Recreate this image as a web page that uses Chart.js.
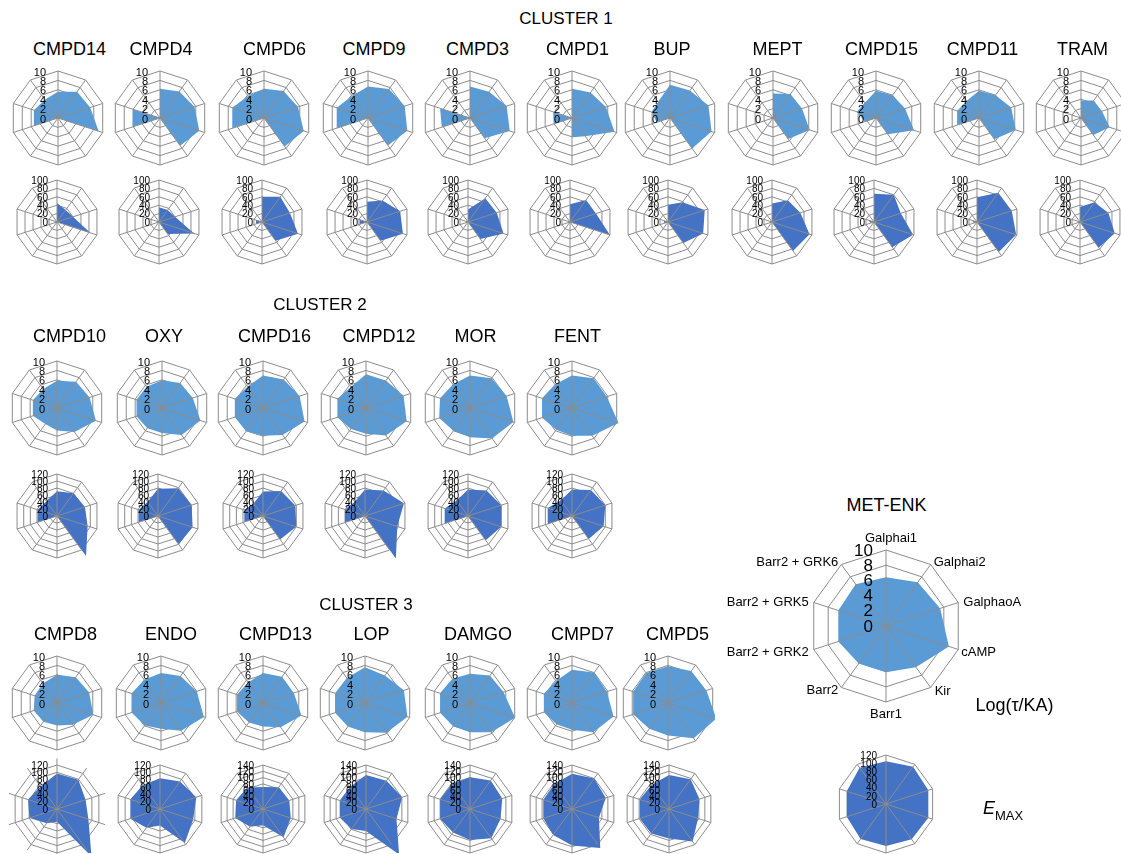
<!DOCTYPE html>
<html>
<head>
<meta charset="utf-8">
<script src="https://cdn.jsdelivr.net/npm/chart.js@4.4.1/dist/chart.umd.min.js"></script>
<style>
  html, body { margin: 0; padding: 0; background: #fff; }
  #fig { position: relative; width: 1121px; height: 854px; overflow: hidden;
         font-family: "Liberation Sans", Arial, Helvetica, sans-serif; color: #000; }
  .t { position: absolute; white-space: nowrap; transform: translate(-50%, -50%); line-height: 1; }
  canvas { position: absolute; }
</style>
</head>
<body>
<div id="fig"></div>
<script>
// ---- axes and tick sets ----
const axes = ['Galphai1', 'Galphai2', 'GalphaoA', 'cAMP', 'Kir', 'Barr1', 'Barr2',
              'Barr2 + GRK2', 'Barr2 + GRK5', 'Barr2 + GRK6'];
const tauTicks = [0, 2, 4, 6, 8, 10];
const emaxTicks100 = [0, 20, 40, 60, 80, 100];
const emaxTicks120 = [0, 20, 40, 60, 80, 100, 120];
const emaxTicks140 = [0, 20, 40, 60, 80, 100, 120, 140];

// ---- ligand groups ----
const cluster1 = ['CMPD14', 'CMPD4', 'CMPD6', 'CMPD9', 'CMPD3', 'CMPD1', 'BUP', 'MEPT', 'CMPD15', 'CMPD11', 'TRAM'];
const cluster2 = ['CMPD10', 'OXY', 'CMPD16', 'CMPD12', 'MOR', 'FENT'];
const cluster3 = ['CMPD8', 'ENDO', 'CMPD13', 'LOP', 'DAMGO', 'CMPD7', 'CMPD5'];
const cluster3EmaxTicks = [emaxTicks120, emaxTicks120, emaxTicks140, emaxTicks140, emaxTicks140, emaxTicks140, emaxTicks140];

// ---- Log(tau/KA) per ligand, in axis order ----
const tauCMPD14 = [5.6, 6.9, 7.2, 9.1, 0, 0, 0, 5.4, 5.4, 4.8];
const tauCMPD4  = [6.2, 7.0, 7.7, 8.8, 7.3, 0, 0, 6.1, 6.1, 0];
const tauCMPD6  = [6.2, 7.1, 7.6, 8.9, 7.5, 0, 0, 7.1, 7.1, 5.8];
const tauCMPD9  = [6.7, 7.6, 8.2, 8.8, 7.2, 0, 0, 7.0, 7.0, 5.8];
const tauCMPD3  = [6.7, 6.9, 8.2, 8.9, 5.3, 0, 0, 6.3, 6.7, 0];
const tauCMPD1  = [6.2, 6.7, 7.6, 9.5, 4.8, 4.1, 0, 4.0, 4.2, 0];
const tauBUP    = [7.1, 7.2, 8.6, 9.3, 8.0, 0, 0, 3.0, 4.1, 4.3];
const tauMEPT   = [5.2, 6.3, 6.5, 8.2, 5.5, 0, 0, 0, 0, 0];
const tauCMPD15 = [5.8, 6.0, 6.5, 8.5, 4.3, 0, 0, 2.5, 4.3, 4.0];
const tauCMPD11 = [5.8, 6.0, 7.2, 8.2, 5.6, 0, 0, 4.9, 4.9, 4.5];
const tauTRAM   = [3.7, 4.6, 4.7, 6.4, 4.5, 0, 0, 0, 0, 0];
const tauCMPD10 = [5.8, 6.9, 7.3, 8.7, 6.3, 4.8, 4.2, 5.4, 5.4, 5.0];
const tauOXY    = [5.9, 6.6, 6.9, 8.6, 7.1, 5.3, 5.3, 5.7, 5.7, 5.6];
const tauCMPD16 = [6.9, 7.5, 8.2, 9.3, 7.1, 5.9, 6.1, 6.3, 6.3, 5.6];
const tauCMPD12 = [7.2, 7.2, 8.4, 9.1, 7.2, 5.5, 5.5, 6.4, 6.4, 5.5];
const tauMOR    = [6.9, 7.8, 8.2, 9.7, 8.0, 6.2, 6.0, 6.9, 6.7, 6.2];
const tauFENT   = [6.9, 7.8, 7.8, 10.4, 7.3, 5.9, 5.7, 6.7, 6.7, 6.2];
const tauCMPD8  = [6.0, 6.8, 7.2, 8.1, 5.7, 4.8, 4.9, 5.2, 5.0, 5.1];
const tauENDO   = [6.4, 7.1, 8.0, 9.6, 7.3, 5.5, 5.9, 6.6, 6.6, 6.1];
const tauCMPD13 = [6.4, 6.9, 6.9, 8.6, 6.4, 5.0, 5.1, 5.8, 5.8, 5.4];
const tauLOP    = [7.6, 7.2, 8.7, 9.5, 7.8, 6.2, 6.2, 6.7, 6.7, 6.6];
const tauDAMGO  = [6.2, 7.2, 7.5, 10.1, 7.7, 6.2, 6.1, 6.7, 6.7, 6.4];
const tauCMPD7  = [7.1, 8.0, 7.8, 9.3, 7.7, 5.7, 5.6, 6.3, 6.3, 5.8];
const tauCMPD5  = [7.8, 8.4, 8.6, 10.8, 9.3, 6.9, 6.8, 7.8, 7.8, 7.9];
const tauMETENK = [6.4, 7.1, 7.5, 8.7, 6.7, 6.1, 6.1, 6.6, 6.6, 6.8];

// ---- EMAX per ligand, in axis order ----
const emaxCMPD14 = [45, 35, 40, 83, 0, 0, 0, 0, 0, 0];
const emaxCMPD4  = [35, 35, 40, 88, 35, 0, 0, 5, 5, 0];
const emaxCMPD6  = [60, 74, 70, 90, 55, 0, 0, 15, 15, 0];
const emaxCMPD9  = [48, 63, 83, 90, 55, 0, 0, 18, 18, 0];
const emaxCMPD3  = [30, 70, 72, 89, 50, 0, 0, 0, 0, 0];
const emaxCMPD1  = [42, 65, 65, 100, 0, 0, 0, 0, 0, 0];
const emaxBUP    = [41, 58, 92, 88, 62, 0, 0, 10, 10, 0];
const emaxMEPT   = [44, 64, 71, 94, 85, 0, 0, 0, 0, 0];
const emaxCMPD15 = [67, 80, 67, 98, 74, 0, 0, 8, 15, 0];
const emaxCMPD11 = [59, 86, 87, 98, 88, 0, 0, 8, 12, 0];
const emaxTRAM   = [36, 58, 71, 87, 76, 0, 0, 0, 0, 0];
const emaxCMPD10 = [71, 80, 84, 92, 141, 0, 0, 58, 58, 52];
const emaxOXY    = [78, 98, 101, 104, 100, 0, 0, 58, 58, 50];
const emaxCMPD16 = [70, 88, 97, 100, 83, 0, 0, 56, 56, 45];
const emaxCMPD12 = [76, 90, 117, 97, 150, 0, 0, 60, 60, 50];
const emaxMOR    = [76, 90, 100, 100, 86, 0, 0, 70, 70, 55];
const emaxFENT   = [76, 92, 100, 95, 81, 0, 0, 73, 73, 55];
const emaxCMPD8  = [97, 99, 82, 90, 160, 35, 48, 79, 83, 76];
const emaxENDO   = [84, 93, 104, 95, 115, 45, 63, 85, 85, 80];
const emaxCMPD13 = [70, 86, 88, 93, 111, 52, 70, 93, 90, 85];
const emaxLOP    = [108, 111, 121, 102, 179, 70, 79, 88, 88, 87];
const emaxDAMGO  = [101, 112, 108, 102, 115, 99, 92, 100, 100, 98];
const emaxCMPD7  = [112, 120, 113, 90, 153, 116, 102, 96, 96, 97];
const emaxCMPD5  = [108, 117, 102, 97, 128, 94, 96, 98, 98, 94];
const emaxMETENK = [105, 113, 109, 109, 107, 103, 106, 101, 101, 110];

// lookup tables built from the arrays above
const tau = {
  CMPD14: tauCMPD14, CMPD4: tauCMPD4, CMPD6: tauCMPD6, CMPD9: tauCMPD9, CMPD3: tauCMPD3,
  CMPD1: tauCMPD1, BUP: tauBUP, MEPT: tauMEPT, CMPD15: tauCMPD15, CMPD11: tauCMPD11, TRAM: tauTRAM,
  CMPD10: tauCMPD10, OXY: tauOXY, CMPD16: tauCMPD16, CMPD12: tauCMPD12, MOR: tauMOR, FENT: tauFENT,
  CMPD8: tauCMPD8, ENDO: tauENDO, CMPD13: tauCMPD13, LOP: tauLOP, DAMGO: tauDAMGO, CMPD7: tauCMPD7,
  CMPD5: tauCMPD5, 'MET-ENK': tauMETENK
};
const emax = {
  CMPD14: emaxCMPD14, CMPD4: emaxCMPD4, CMPD6: emaxCMPD6, CMPD9: emaxCMPD9, CMPD3: emaxCMPD3,
  CMPD1: emaxCMPD1, BUP: emaxBUP, MEPT: emaxMEPT, CMPD15: emaxCMPD15, CMPD11: emaxCMPD11, TRAM: emaxTRAM,
  CMPD10: emaxCMPD10, OXY: emaxOXY, CMPD16: emaxCMPD16, CMPD12: emaxCMPD12, MOR: emaxMOR, FENT: emaxFENT,
  CMPD8: emaxCMPD8, ENDO: emaxENDO, CMPD13: emaxCMPD13, LOP: emaxLOP, DAMGO: emaxDAMGO, CMPD7: emaxCMPD7,
  CMPD5: emaxCMPD5, 'MET-ENK': emaxMETENK
};

// ---- drawing ----
const fig = document.getElementById('fig');
const FONT = '"Liberation Sans", Arial, Helvetica, sans-serif';
const GRID = '#8c8c8c';
const TAU_FILL = '#5B9BD5';
const EMAX_FILL = '#4472C4';

function text(str, x, y, size) {
  const d = document.createElement('div');
  d.className = 't';
  d.textContent = str;
  d.style.left = x + 'px';
  d.style.top = y + 'px';
  d.style.fontSize = size + 'px';
  fig.appendChild(d);
  return d;
}

// spokes over the fill, tick labels and optional axis names
function overlayPlugin(cfg) {
  return {
    id: 'overlay',
    afterDatasetsDraw(chart) {
      const s = chart.scales.r;
      const ctx = chart.ctx;
      ctx.save();
      ctx.strokeStyle = GRID;
      ctx.lineWidth = 1;
      const len = s.drawingArea * (cfg.spokeExt || 1);
      for (let i = 0; i < axes.length; i++) {
        const p = s.getPointPosition(i, len);
        ctx.beginPath();
        ctx.moveTo(s.xCenter, s.yCenter);
        ctx.lineTo(p.x, p.y);
        ctx.stroke();
      }
      ctx.fillStyle = '#000';
      ctx.font = cfg.tickSize + 'px ' + FONT;
      ctx.textAlign = 'right';
      ctx.textBaseline = 'middle';
      cfg.ticks.forEach(v => {
        const y = s.yCenter - s.getDistanceFromCenterForValue(v) + cfg.tickDy;
        ctx.fillText(String(v), s.xCenter - cfg.tickDx, y);
      });
      if (cfg.axisNames) {
        ctx.font = '13px ' + FONT;
        const off = [[5, -12], [3, -2], [5, 0], [3, 2.5], [4, 3.5], [0, 12], [-3, 3], [-5, 2.5], [-5, 0], [-3, -2]];
        axes.forEach((name, i) => {
          const p = s.getPointPosition(i, s.drawingArea);
          ctx.textAlign = (i === 0 || i === 5) ? 'center' : (i < 5 ? 'left' : 'right');
          ctx.fillText(name, p.x + off[i][0], p.y + off[i][1]);
        });
      }
      ctx.restore();
    }
  };
}

function radar(cx, cy, R, values, ticks, fill, cfg) {
  const pad = cfg.pad || 26;
  const size = 2 * R + 2 * pad;
  const c = document.createElement('canvas');
  c.width = size; c.height = size;
  c.style.width = size + 'px'; c.style.height = size + 'px';
  c.style.left = Math.round(cx - R - pad) + 'px';
  c.style.top = Math.round(cy - R - pad) + 'px';
  fig.appendChild(c);
  new Chart(c, {
    type: 'radar',
    data: {
      labels: axes,
      datasets: [{
        data: values, backgroundColor: fill, borderColor: 'rgba(0,0,0,0)', borderWidth: 0,
        pointRadius: 0, pointHoverRadius: 0, fill: true, tension: 0, clip: false
      }]
    },
    options: {
      responsive: false, animation: false, events: [],
      layout: { padding: pad },
      plugins: { legend: { display: false }, tooltip: { enabled: false } },
      scales: {
        r: {
          min: 0, max: ticks[ticks.length - 1],
          ticks: { display: false, stepSize: ticks[1] - ticks[0] },
          grid: { color: GRID, lineWidth: 1 },
          angleLines: { display: false },
          pointLabels: { display: false }
        }
      }
    },
    plugins: [overlayPlugin(Object.assign({ ticks }, cfg))]
  });
}

const smallTau = { tickSize: 11, tickDx: 12, tickDy: 1.5 };
const smallEmax = { tickSize: 10, tickDx: 9, tickDy: 1 };

// cluster rows: radar centres and title positions
const rows = [
  { title: 'CLUSTER 1', tx: 566, ty: 18, names: cluster1, emaxTicks: cluster1.map(() => emaxTicks100),
    xTau:  [58, 160, 264, 368, 470, 572, 670, 773, 876, 979, 1081],
    xEmax: [57, 159, 262, 367, 468, 569.5, 668, 772, 874, 977, 1080],
    nameX: [69.5, 161, 274.5, 374, 477.5, 577.5, 672, 777.5, 881.5, 982.5, 1082.5],
    nameY: 49, yTau: 117.5, yEmax: 221.5, rTau: 47, rEmax: 42 },
  { title: 'CLUSTER 2', tx: 320, ty: 304, names: cluster2, emaxTicks: cluster2.map(() => emaxTicks120),
    xTau:  [57, 161.5, 263, 366, 470, 572],
    xEmax: [56.7, 157.5, 263, 365, 468, 572],
    nameX: [69.5, 164, 274.5, 379, 475.5, 577.5],
    nameY: 336, yTau: 407.5, yEmax: 515.5, rTau: 47, rEmax: 42 },
  { title: 'CLUSTER 3', tx: 366, ty: 604, names: cluster3, emaxTicks: cluster3EmaxTicks,
    xTau:  [57, 161, 263, 365, 470, 572, 668],
    xEmax: [57.3, 160, 263, 366, 470, 572, 669],
    nameX: [65.5, 171, 275.5, 371.5, 478, 582.5, 677.5],
    nameY: 634, yTau: 703, yEmax: 809, rTau: 47, rEmax: 44 }
];

rows.forEach(row => {
  text(row.title, row.tx, row.ty, 17);
  row.names.forEach((name, i) => {
    text(name, row.nameX[i], row.nameY, 18);
    radar(row.xTau[i], row.yTau, row.rTau, tau[name], tauTicks, TAU_FILL, smallTau);
    const ext = name === 'CMPD8' ? 1.15 : 1;
    radar(row.xEmax[i], row.yEmax, row.rEmax, emax[name], row.emaxTicks[i], EMAX_FILL,
          Object.assign({ spokeExt: ext }, smallEmax));
  });
});

// reference agonist, drawn larger with axis names
text('MET-ENK', 886.5, 505, 18);
radar(886, 626, 76, tau['MET-ENK'], tauTicks, TAU_FILL,
      { tickSize: 17, tickDx: 13, tickDy: 1, axisNames: true, pad: 100 });
radar(886, 804, 49, emax['MET-ENK'], emaxTicks120, EMAX_FILL, smallEmax);

text('Log(\u03c4/KA)', 1014.5, 705, 18);
const em = text('', 1003, 808, 18);
em.innerHTML = '<i>E</i><span style="font-size:13px;position:relative;top:6px">MAX</span>';
</script>
</body>
</html>
